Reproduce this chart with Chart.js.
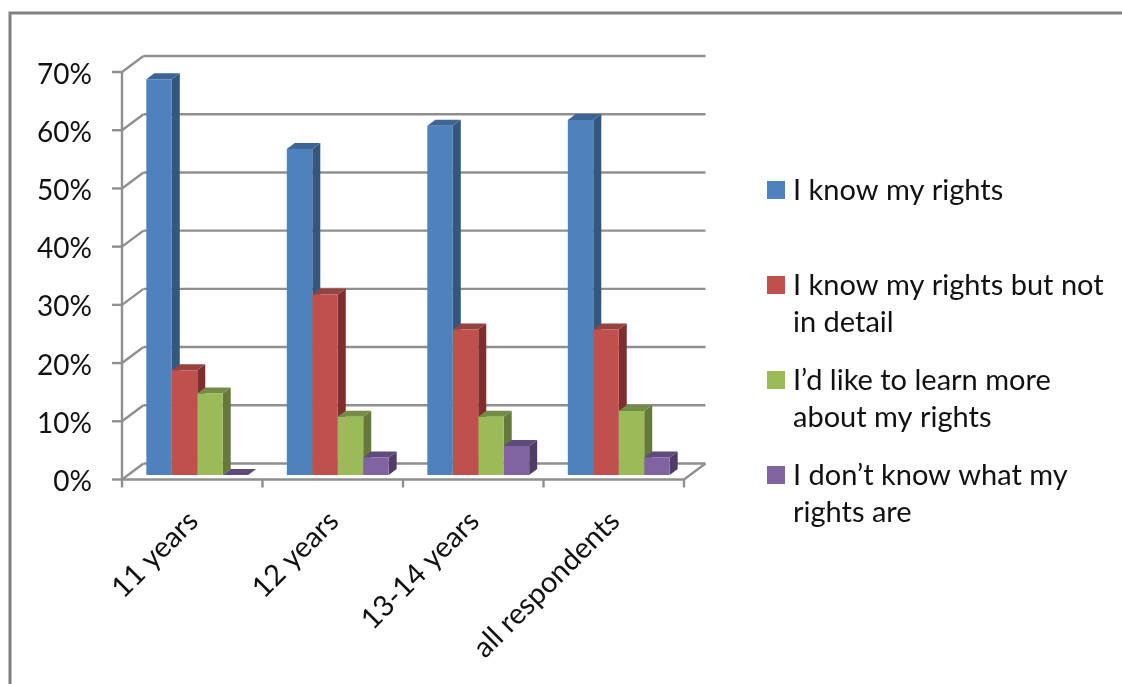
<!DOCTYPE html>
<html>
<head>
<meta charset="utf-8">
<title>Knowledge of rights by age</title>
<script src="https://cdn.jsdelivr.net/npm/chart.js@4/dist/chart.umd.min.js"></script>
<style>
    html, body { margin: 0; padding: 0; background: #fff; }
    /* the reference is a soft, resampled screenshot */
    canvas { display: block; filter: blur(0.5px); }
</style>
</head>
<body>
<canvas id="rightsChart" width="1122" height="684"></canvas>
<script>
// Data
const categories = ['11 years', '12 years', '13-14 years', 'all respondents'];
const yTicks = [0, 10, 20, 30, 40, 50, 60, 70];
const knowRights = [68, 56, 60, 61];
const knowNotDetail = [18, 31, 25, 25];
const likeToLearn = [14, 10, 10, 11];
const dontKnow = [0, 3, 5, 3];
const seriesNames = [
    'I know my rights',
    'I know my rights but not in detail',
    'I\u2019d like to learn more about my rights',
    'I don\u2019t know what my rights are'
];
const legendLines = [
    ['I know my rights'],
    ['I know my rights but not', 'in detail'],
    ['I\u2019d like to learn more', 'about my rights'],
    ['I don\u2019t know what my', 'rights are']
];

// Colours: front, side, top of each bar
const barColors = [
    { front: '#4f81bd', side: '#33587f', top: '#3d6595' },
    { front: '#c0504d', side: '#7e2f2d', top: '#964240' },
    { front: '#9bbb59', side: '#64793a', top: '#748c45' },
    { front: '#8064a2', side: '#4f3d68', top: '#5f4a7c' }
];
const gridColor = '#8f8f8f';
const textColor = '#111';

// Bars sit a little behind the front of the floor, the wall further back
const front = { dx: -5, dy: 4.5 };
const back = { dx: 16.5, dy: -11.5 };
const depth = { dx: 8, dy: 6 };

function line(ctx, x1, y1, x2, y2) {
    ctx.beginPath();
    ctx.moveTo(x1, y1);
    ctx.lineTo(x2, y2);
    ctx.stroke();
}

function poly(ctx, pts, color) {
    ctx.fillStyle = color;
    ctx.beginPath();
    pts.forEach((p, i) => i ? ctx.lineTo(p[0], p[1]) : ctx.moveTo(p[0], p[1]));
    ctx.closePath();
    ctx.fill();
}

// Outer frame of the pasted picture
const framePlugin = {
    id: 'frame',
    beforeDraw(chart) {
        const ctx = chart.ctx;
        ctx.save();
        ctx.strokeStyle = '#808080';
        ctx.lineWidth = 3;
        ctx.beginPath();
        ctx.moveTo(10, 690);
        ctx.lineTo(10, 13);
        ctx.lineTo(1130, 13);
        ctx.stroke();
        ctx.restore();
    }
};

// Fake 3D walls and floor, then the sides and tops of the bars
const box3dPlugin = {
    id: 'box3d',
    beforeDatasetsDraw(chart) {
        const ctx = chart.ctx;
        const { y } = chart.scales;
        const area = chart.chartArea;
        const step = (area.right - area.left) / categories.length;
        const frontLeft = area.left + front.dx;
        const frontRight = area.right + front.dx;
        const backLeft = area.left + back.dx;
        const backRight = area.right + back.dx;

        ctx.save();
        ctx.strokeStyle = gridColor;
        ctx.lineWidth = 2.4;
        yTicks.forEach(t => {
            const py = y.getPixelForValue(t);
            line(ctx, frontLeft - 10, py + front.dy, frontLeft, py + front.dy);
            line(ctx, frontLeft, py + front.dy, backLeft, py + back.dy);
            line(ctx, backLeft, py + back.dy, backRight, py + back.dy);
        });
        const py0 = y.getPixelForValue(0);
        const pyTop = y.getPixelForValue(yTicks[yTicks.length - 1]);
        line(ctx, frontLeft, pyTop + front.dy, frontLeft, py0 + front.dy + 8);
        line(ctx, frontLeft, py0 + front.dy, frontRight, py0 + front.dy);
        line(ctx, frontRight, py0 + front.dy, backRight, py0 + back.dy);
        categories.forEach((c, i) => {
            const px = frontLeft + step * (i + 1);
            line(ctx, px, py0 + front.dy, px, py0 + front.dy + 8);
        });

        // left to right so each side is covered by its right neighbour
        categories.forEach((c, i) => {
            barColors.forEach((col, ds) => {
                const bar = chart.getDatasetMeta(ds).data[i];
                const l = bar.x - bar.width / 2;
                const r = bar.x + bar.width / 2;
                const d = depth;
                poly(ctx, [[r, bar.y], [r + d.dx, bar.y - d.dy], [r + d.dx, bar.base - d.dy], [r, bar.base]], col.side);
                poly(ctx, [[l, bar.y], [l + d.dx, bar.y - d.dy], [r + d.dx, bar.y - d.dy], [r, bar.y]], col.top);
            });
        });
        ctx.restore();
    }
};

// Legend by hand because the rows keep an even pitch with wrapped labels
const sideLegendPlugin = {
    id: 'sideLegend',
    afterDraw(chart) {
        const ctx = chart.ctx;
        ctx.save();
        ctx.font = '29px Lato';
        ctx.textBaseline = 'middle';
        legendLines.forEach((lines, i) => {
            const cy = 190 + i * 95;
            ctx.fillStyle = barColors[i].front;
            ctx.fillRect(767, cy - 9, 18, 18);
            ctx.fillStyle = textColor;
            lines.forEach((text, n) => ctx.fillText(text, 793, cy + 1 + n * 37));
        });
        ctx.restore();
    }
};

const allSeries = [knowRights, knowNotDetail, likeToLearn, dontKnow];

new Chart(document.getElementById('rightsChart'), {
    type: 'bar',
    data: {
        labels: categories,
        datasets: allSeries.map((values, i) => ({
            label: seriesNames[i],
            data: values,
            backgroundColor: barColors[i].front,
            borderWidth: 0,
            categoryPercentage: 0.725,
            barPercentage: 1
        }))
    },
    options: {
        responsive: false,
        animation: false,
        layout: { padding: { top: 67.5, right: 433, left: 0, bottom: 0 } },
        plugins: {
            legend: { display: false },
            tooltip: { enabled: false }
        },
        scales: {
            x: {
                grid: { display: false },
                border: { display: false },
                ticks: {
                    color: textColor,
                    font: { family: 'Lato', size: 29 },
                    minRotation: 45,
                    maxRotation: 45,
                    padding: 21,
                    labelOffset: -4
                },
                afterFit(scale) {
                    scale.height = 209;
                    scale.paddingLeft = 0;
                    scale.paddingRight = 0;
                }
            },
            y: {
                min: 0,
                max: 70,
                grid: { display: false },
                border: { display: false },
                ticks: {
                    stepSize: 10,
                    color: textColor,
                    font: { family: 'Lato', size: 28 },
                    padding: 27,
                    labelOffset: 7,
                    callback: v => v + '%'
                },
                afterFit(scale) {
                    scale.width = 127;
                    scale.paddingTop = 0;
                    scale.paddingBottom = 0;
                }
            }
        }
    },
    plugins: [framePlugin, box3dPlugin, sideLegendPlugin]
});
</script>
</body>
</html>
